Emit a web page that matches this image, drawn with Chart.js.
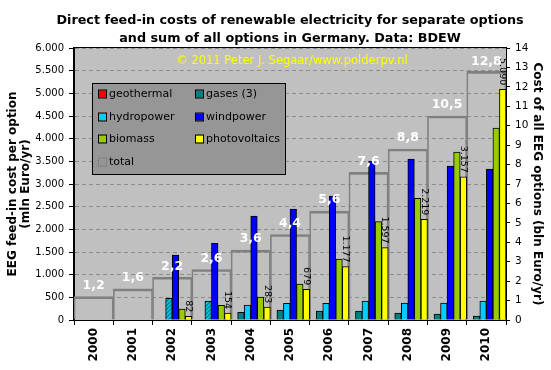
<!DOCTYPE html>
<html><head><meta charset="utf-8">
<script src="https://cdn.jsdelivr.net/npm/chart.js@4/dist/chart.umd.min.js"></script>
<style>html,body{margin:0;padding:0;background:#fff}#wrap{width:551px;height:370px}</style>
</head><body><div id="wrap"><canvas id="c" width="551" height="370"></canvas></div>
<script>
// ---- data ----
const years = ['2000','2001','2002','2003','2004','2005','2006','2007','2008','2009','2010'];
// mln Euro/yr per option (left axis)
const geothermal    = [null,null,null,null,null,null,null,null,null,null,null];
const gases         = [null,null,null,null,170,221,199,199,150,128,85];
const hydropower    = [null,null,479,419,331,368,368,419,372,372,419]; // 2002/2003: hydro + gases combined (hatched)
const windpower     = [null,null,1434,1692,2294,2449,2735,3508,3552,3397,3331];
const biomass       = [null,null,243,324,505,794,1346,2169,2684,3706,4235];
const photovoltaics = [null,null,82,154,283,679,1177,1597,2219,3157,5090];
// bln Euro/yr all options (right axis)
const total         = [1.2,1.6,2.2,2.6,3.6,4.4,5.6,7.6,8.8,10.5,12.8];
const seriesNames = ['geothermal','gases (3)','hydropower','windpower','biomass','photovoltaics','total'];
const titleLines = ['Direct feed-in costs of renewable electricity for separate options','and sum of all options in Germany. Data: BDEW'];
const leftTitle = ['EEG feed-in cost per option','(mln Euro/yr)'];
const rightTitle = 'Cost of all EEG options (bln Euro/yr)';
const watermark = '\u00A9 2011 Peter J. Segaar/www.polderpv.nl';

const FONT = 'DejaVu Sans';
Chart.defaults.font.family = FONT;
Chart.defaults.color = '#000';

function fmtDot(v){ return Number(v).toLocaleString('de-DE'); }
function fmtComma(v){ return String(v).replace('.', ','); }

function makeHatch(){
  const c = document.createElement('canvas'); c.width = 4; c.height = 4;
  const g = c.getContext('2d');
  g.fillStyle = '#00CCFF'; g.fillRect(0,0,4,4);
  g.strokeStyle = '#008080'; g.lineWidth = 1.3;
  g.beginPath(); g.moveTo(-1,5); g.lineTo(5,-1); g.moveTo(3,5); g.lineTo(5,3); g.moveTo(-1,1); g.lineTo(1,-1); g.stroke();
  return g.createPattern(c,'repeat');
}
const hatch = makeHatch();

const colors = ['#FF0000','#008080','#00CCFF','#0000FF','#99CC00','#FFFF00'];
const barBase = {yAxisID:'y', borderColor:'#000', borderWidth:1, categoryPercentage:1, barPercentage:1, order:0};

const bgPlugin = {
  id:'bg',
  beforeDraw(chart){
    const {ctx, chartArea:a} = chart;
    ctx.save(); ctx.fillStyle = '#C0C0C0'; ctx.fillRect(a.left, a.top, a.right-a.left, a.bottom-a.top); ctx.restore();
  }
};

const overlayPlugin = {
  id:'overlay',
  afterDatasetsDraw(chart){
    const {ctx, chartArea:a} = chart;
    ctx.save();
    // chart title, centred over the plot area
    ctx.fillStyle = '#000'; ctx.font = 'bold 12.75px "'+FONT+'"'; ctx.textAlign='center'; ctx.textBaseline='middle';
    const cx = (a.left + a.right) / 2;
    titleLines.forEach((t,i)=>ctx.fillText(t, cx, a.top - 27 + i*17.6));
    // frame
    ctx.strokeStyle = '#000'; ctx.lineWidth = 1;
    ctx.strokeRect(Math.round(a.left)-0.5, Math.round(a.top)-0.5, Math.round(a.right-a.left)+1, Math.round(a.bottom-a.top)+1);
    // watermark
    ctx.fillStyle = '#FFFF00'; ctx.font = '11.5px "'+FONT+'"'; ctx.textAlign='center'; ctx.textBaseline='middle';
    ctx.fillText(watermark, cx + 2, a.top + 13);
    // PV value labels (rotated)
    const pvMeta = chart.getDatasetMeta(5);
    ctx.fillStyle = '#000'; ctx.font = '9.5px "'+FONT+'"'; ctx.textAlign='right'; ctx.textBaseline='middle';
    pvMeta.data.forEach((el,i)=>{
      if (photovoltaics[i]==null) return;
      ctx.save(); ctx.translate(el.x, el.y - 4); ctx.rotate(Math.PI/2);
      ctx.fillText(fmtDot(photovoltaics[i]), 0, 0); ctx.restore();
    });
    // total labels
    const tMeta = chart.getDatasetMeta(6);
    ctx.fillStyle = '#FFFFFF'; ctx.font = 'bold 12.5px "'+FONT+'"'; ctx.textAlign='center'; ctx.textBaseline='middle';
    tMeta.data.forEach((el,i)=>{ ctx.fillText(fmtComma(total[i]), el.x, Math.max(el.y - 11, a.top + 14)); });
    // legend box
    const lx = 92, ly = 83, lw = 193, lh = 91;
    ctx.fillStyle = '#969696'; ctx.fillRect(lx, ly, lw, lh);
    ctx.strokeStyle = '#000'; ctx.strokeRect(lx+0.5, ly+0.5, lw, lh);
    ctx.font = '11px "'+FONT+'"'; ctx.textAlign='left'; ctx.textBaseline='middle';
    const colX = [99, 196], rowY = [94, 117, 139, 162];
    chart.data.datasets.forEach((ds,i)=>{
      const x = colX[i%2], y = rowY[Math.floor(i/2)];
      if (i < 6) {
        ctx.fillStyle = colors[i]; ctx.fillRect(x, y-3.5, 7, 7);
        ctx.strokeStyle = '#000'; ctx.strokeRect(x-0.5, y-4, 8, 8);
      } else {
        ctx.strokeStyle = '#808080'; ctx.strokeRect(x-0.5, y-4, 8, 8);
      }
      ctx.fillStyle = '#000'; ctx.fillText(ds.label, x+10, y+0.5);
    });
    ctx.restore();
  }
};

new Chart(document.getElementById('c'), {
  type:'bar',
  data:{
    labels: years,
    datasets:[
      {...barBase, label:seriesNames[0], data:geothermal, backgroundColor:colors[0]},
      {...barBase, label:seriesNames[1], data:gases, backgroundColor:colors[1]},
      {...barBase, label:seriesNames[2], data:hydropower,
        backgroundColor: c => (gases[c.dataIndex]==null && hydropower[c.dataIndex]!=null) ? hatch : colors[2]},
      {...barBase, label:seriesNames[3], data:windpower, backgroundColor:colors[3]},
      {...barBase, label:seriesNames[4], data:biomass, backgroundColor:colors[4]},
      {...barBase, label:seriesNames[5], data:photovoltaics, backgroundColor:colors[5]},
      {label:seriesNames[6], data:total, yAxisID:'y2', grouped:false, order:1,
        backgroundColor:'rgba(0,0,0,0)', borderColor:'#808080',
        borderWidth:{top:2,left:1,right:1,bottom:0}, categoryPercentage:1, barPercentage:1}
    ]
  },
  options:{
    responsive:false, animation:false,
    layout:{padding:{top:48}},
    plugins:{ legend:{display:false}, tooltip:{enabled:false}, title:{display:false} },
    scales:{
      x:{
        grid:{display:true, drawOnChartArea:false, offset:true, color:'#000', tickLength:5},
        border:{color:'#000'},
        ticks:{maxRotation:90, minRotation:90, padding:3, color:'#000', font:{size:12, weight:'bold'}},
        afterFit(s){ s.height = 50; }
      },
      y:{
        position:'left', min:0, max:6000,
        ticks:{stepSize:500, padding:5, color:'#000', font:{size:10}, callback:v=>fmtDot(v)},
        grid:{color:'#8C8C8C', tickColor:'#000', tickLength:5, lineWidth:1},
        border:{color:'#000', dash:[4,3]},
        title:{display:true, text:leftTitle, color:'#000', font:{size:12, weight:'bold', lineHeight:1.1}, padding:{top:6.4,bottom:0}},
        afterFit(s){ s.width = 74; }
      },
      y2:{
        position:'right', min:0, max:14,
        ticks:{stepSize:1, padding:5, color:'#000', font:{size:10.5}},
        grid:{drawOnChartArea:false, color:'#000', tickLength:4},
        border:{color:'#000'},
        title:{display:true, text:rightTitle, color:'#000', font:{size:12, weight:'bold', lineHeight:1.25}, padding:{top:6.5,bottom:0}},
        afterFit(s){ s.width = 45; }
      }
    }
  },
  plugins:[bgPlugin, overlayPlugin]
});
</script>
</body></html>
